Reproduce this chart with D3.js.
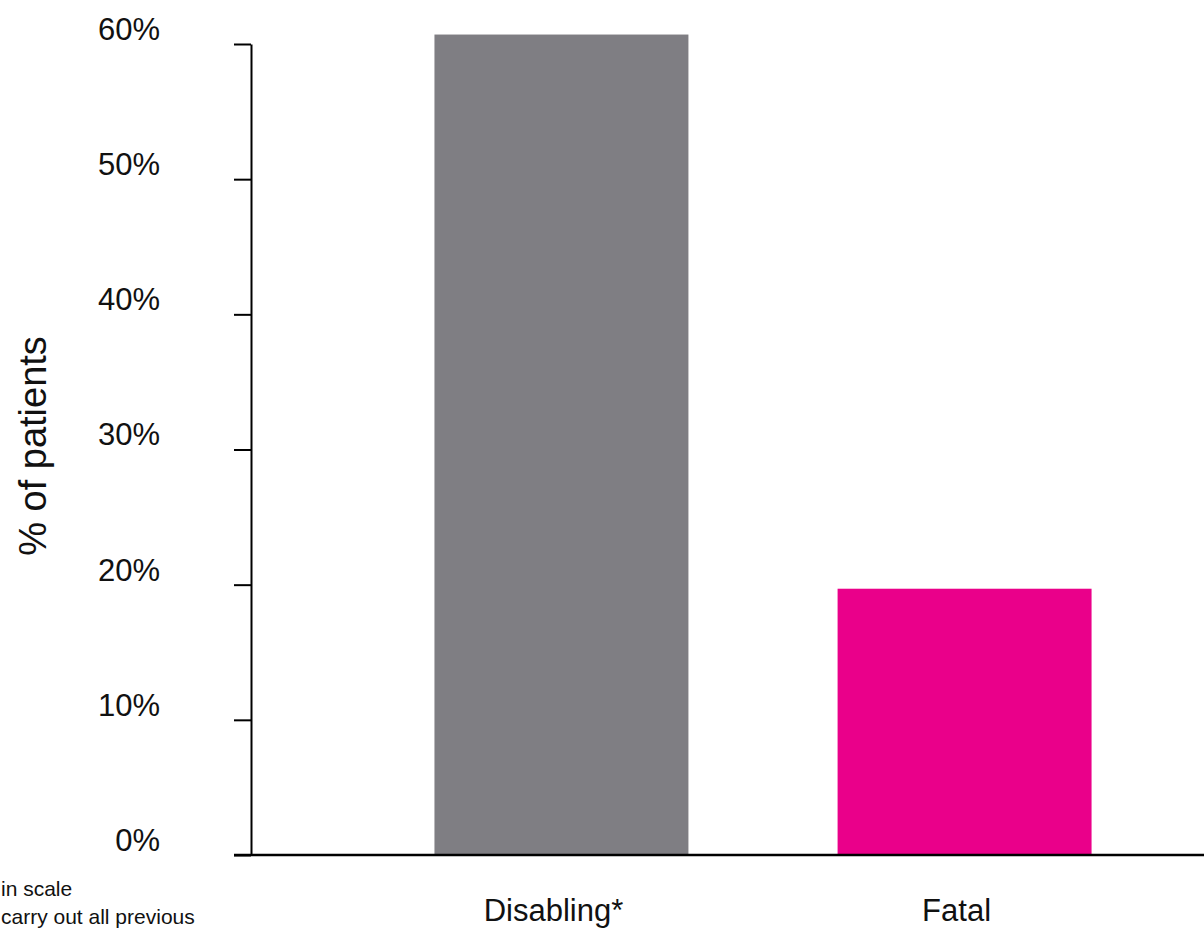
<!DOCTYPE html>
<html>
<head>
<meta charset="utf-8">
<script src="https://cdn.jsdelivr.net/npm/d3@7"></script>
<style>
  html, body { margin: 0; padding: 0; background: #fff; }
  svg { display: block; font-family: "Liberation Sans", Arial, sans-serif; }
</style>
</head>
<body>
<svg id="chart" width="1204" height="935"></svg>
<script>
// Outcome categories and share of patients (%)
const categories = ["Disabling*", "Fatal"];
const values = [60.7, 19.7];
const barColors = ["#7f7e83", "#ea008a"];
const yTicks = [0, 10, 20, 30, 40, 50, 60];
const yTitle = "% of patients";
const footnoteLines = ["in scale", "carry out all previous"];

const svg = d3.select("#chart");

const axisX = 251;      // y-axis position
const baseY = 855;      // zero line
const topY = 44;        // 60% line

const y = d3.scaleLinear().domain([0, 60]).range([baseY, topY]);

const x = d3.scaleBand()
  .domain(categories)
  .range([axisX, 1204])
  .paddingInner(0.37)
  .paddingOuter(0.367)
  .align(0.62);

// bars
svg.append("g")
  .selectAll("rect")
  .data(categories)
  .join("rect")
  .attr("x", d => x(d))
  .attr("width", x.bandwidth())
  .attr("y", (d, i) => y(values[i]))
  .attr("height", (d, i) => y(0) - y(values[i]))
  .attr("fill", (d, i) => barColors[i]);

// y axis
const yAxis = d3.axisLeft(y)
  .tickValues(yTicks)
  .tickFormat(d => d + "%")
  .tickSize(17)
  .tickSizeOuter(0);

const gy = svg.append("g")
  .attr("transform", `translate(${axisX},0)`)
  .call(yAxis);

gy.select(".domain").attr("stroke", "#000").attr("stroke-width", 2);
gy.selectAll(".tick line").attr("stroke", "#000").attr("stroke-width", 2);
gy.selectAll(".tick text")
  .attr("x", -91)
  .attr("dy", "-0.15em")
  .attr("fill", "#111")
  .style("font-size", "31px");

// baseline across the plot
svg.append("line")
  .attr("x1", 234)
  .attr("x2", 1204)
  .attr("y1", y(0))
  .attr("y2", y(0))
  .attr("stroke", "#000")
  .attr("stroke-width", 2.5);

// category labels
svg.append("g")
  .selectAll("text")
  .data(categories)
  .join("text")
  .attr("x", d => x(d) + x.bandwidth() / 2 - 8)
  .attr("y", 921)
  .attr("text-anchor", "middle")
  .attr("fill", "#111")
  .style("font-size", "31px")
  .text(d => d);

// y-axis title
svg.append("text")
  .attr("transform", "translate(46,446) rotate(-90)")
  .attr("text-anchor", "middle")
  .attr("fill", "#111")
  .style("font-size", "38px")
  .text(yTitle);

// footnote in the lower-left corner
svg.append("g")
  .selectAll("text")
  .data(footnoteLines)
  .join("text")
  .attr("x", 1)
  .attr("y", (d, i) => 896 + i * 28)
  .attr("fill", "#111")
  .style("font-size", "21px")
  .text(d => d);
</script>
</body>
</html>
